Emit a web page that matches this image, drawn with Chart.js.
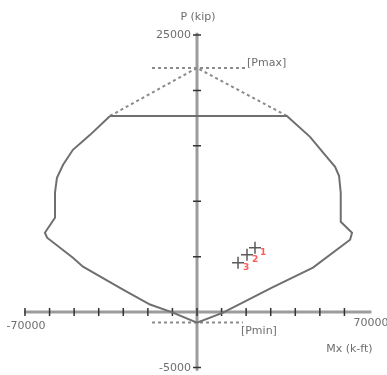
<!DOCTYPE html>
<html><head><meta charset="utf-8">
<script src="https://cdn.jsdelivr.net/npm/chart.js@4/dist/chart.umd.min.js"></script>
<style>html,body{margin:0;padding:0;background:#fff;}canvas{display:block;}</style>
</head><body>
<canvas id="c" width="387" height="375"></canvas>
<script>
// Interaction diagram (Mx in k-ft, P in kip)
const curveM = [-35400,-43500,-50500,-54500,-57000,-57800,-57800,-61900,-61000,-50500,-46400,-30100,-19100,-9800,0,10600,30500,47200,62300,63100,58500,58500,57800,56200,52100,46000,36600,-35400];
const curveP = [17700,15990,14640,13290,12120,10770,8510,7160,6710,4910,4100,2030,680,-50,-950,-50,2200,4010,6530,7160,8150,10770,12300,13110,14190,15810,17700,17700];
const pmaxLineM = [-18300,20350];
const pmaxValue = 22030;
const capDiagM = [-35400,0,36600];
const capDiagP = [17700,22030,17700];
const pminLineM = [-18300,18700];
const pminValue = -950;
const loadM = [23600,20350,16700];
const loadP = [5810,5180,4460];
const loadLabels = ['1','2','3'];
const xTicks = [-70000,-60000,-50000,-40000,-30000,-20000,-10000,0,10000,20000,30000,40000,50000,60000];
const yTicks = [25000,20000,15000,10000,5000,-5000];
const xTickLabels = ['-70000','70000'];
const yTickLabels = ['25000','-5000'];
const xTitle = 'Mx (k-ft)';
const yTitle = 'P (kip)';

const pts = (ms, ps) => ms.map((m,i)=>({x:m, y:Array.isArray(ps)?ps[i]:ps}));

const overlay = {
  id:'overlay',
  beforeDatasetsDraw(chart){
    const {ctx, scales:{x,y}} = chart;
    const x0 = x.getPixelForValue(0), y0 = y.getPixelForValue(0);
    ctx.save();
    ctx.strokeStyle = '#9c9c9c'; ctx.lineWidth = 3;
    ctx.beginPath();
    ctx.moveTo(x.getPixelForValue(-70000)-1, y0); ctx.lineTo(x.getPixelForValue(71000), y0);
    ctx.moveTo(x0, y.getPixelForValue(25200)); ctx.lineTo(x0, y.getPixelForValue(-5300));
    ctx.stroke();
    ctx.strokeStyle = '#333'; ctx.lineWidth = 1.5;
    ctx.beginPath();
    xTicks.forEach(v=>{const px=x.getPixelForValue(v); ctx.moveTo(px,y0-4); ctx.lineTo(px,y0+4);});
    yTicks.forEach(v=>{const py=y.getPixelForValue(v); ctx.moveTo(x0-4,py); ctx.lineTo(x0+4,py);});
    ctx.stroke();
    ctx.restore();
  },
  afterDatasetsDraw(chart){
    const {ctx, scales:{x,y}} = chart;
    const x0 = x.getPixelForValue(0), y0 = y.getPixelForValue(0);
    ctx.save();
    ctx.fillStyle = '#6e6e6e';
    ctx.font = '11px "DejaVu Sans"';
    ctx.textBaseline = 'middle';
    ctx.textAlign = 'right';
    ctx.fillText(yTickLabels[0], x0-6, y.getPixelForValue(25000));
    ctx.fillText(yTickLabels[1], x0-6, y.getPixelForValue(-5000)+1);
    ctx.textAlign = 'center';
    ctx.fillText(xTickLabels[0], x.getPixelForValue(-70000)+1, y0+14);
    ctx.fillText(xTickLabels[1], x.getPixelForValue(70000)+2, y0+11);
    ctx.fillText(yTitle, x0+1, 17);
    ctx.fillText(xTitle, x.getPixelForValue(62000), y0+37);
    ctx.textAlign = 'left';
    ctx.fillText('[Pmax]', x.getPixelForValue(pmaxLineM[1]), y.getPixelForValue(pmaxValue)-5);
    ctx.fillText('[Pmin]', x.getPixelForValue(pminLineM[1])-2, y.getPixelForValue(pminValue)+9);
    ctx.fillStyle = '#ff5a5a';
    ctx.font = 'bold 9px "DejaVu Sans"';
    loadM.forEach((m,i)=>{
      ctx.fillText(loadLabels[i], x.getPixelForValue(m)+5, y.getPixelForValue(loadP[i])+5);
    });
    ctx.restore();
  }
};

new Chart(document.getElementById('c'), {
  type:'scatter',
  data:{datasets:[
    {data:pts(curveM,curveP), showLine:true, borderColor:'#6f6f6f', borderWidth:2, pointRadius:0, tension:0},
    {data:pts(pmaxLineM,pmaxValue), showLine:true, borderColor:'#8a8a8a', borderWidth:2, borderDash:[3,3], pointRadius:0},
    {data:pts(capDiagM,capDiagP), showLine:true, borderColor:'#8a8a8a', borderWidth:2, borderDash:[3,3], pointRadius:0},
    {data:pts(pminLineM,pminValue), showLine:true, borderColor:'#8a8a8a', borderWidth:2, borderDash:[3,3], pointRadius:0},
    {data:pts(loadM,loadP), showLine:false, pointStyle:'cross', pointRadius:6, borderColor:'#5a5a5a', borderWidth:1.5}
  ]},
  options:{
    responsive:false, animation:false, devicePixelRatio:1,
    layout:{padding:{left:25,right:18,top:35,bottom:7}},
    plugins:{legend:{display:false}, tooltip:{enabled:false}},
    scales:{
      x:{type:'linear', min:-70000, max:70000, display:false},
      y:{type:'linear', min:-5000, max:25000, display:false}
    }
  },
  plugins:[overlay]
});
</script>
</body></html>
